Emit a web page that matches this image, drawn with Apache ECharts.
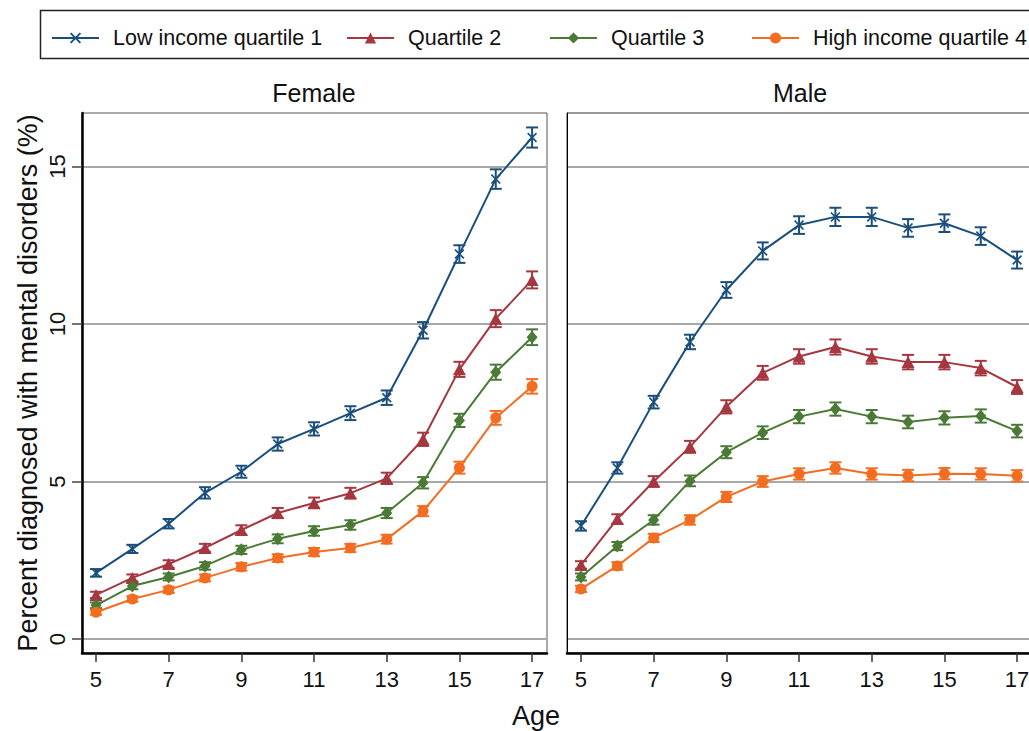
<!DOCTYPE html>
<html>
<head>
<meta charset="utf-8">
<script src="https://cdn.jsdelivr.net/npm/echarts@6/dist/echarts.min.js"></script>
<style>
html,body{margin:0;padding:0;background:#fff;overflow:hidden;}
#chart{width:1045px;height:731px;}
</style>
</head>
<body>
<div id="chart"></div>
<script>
// ---------- data ----------
const ages = [5, 6, 7, 8, 9, 10, 11, 12, 13, 14, 15, 16, 17];
const seriesNames = ['Low income quartile 1', 'Quartile 2', 'Quartile 3', 'High income quartile 4'];
const panelTitles = ['Female', 'Male'];
const yTickValues = [0, 5, 10, 15];
const xTickValues = [5, 7, 9, 11, 13, 15, 17];
const xAxisTitle = 'Age';
const yAxisTitle = 'Percent diagnosed with mental disorders (%)';

// Female: point estimates (%)
const femaleQ1 = [2.10, 2.86, 3.66, 4.64, 5.31, 6.19, 6.67, 7.17, 7.66, 9.80, 12.22, 14.60, 15.92];
const femaleQ2 = [1.40, 1.94, 2.38, 2.89, 3.46, 4.00, 4.32, 4.63, 5.10, 6.34, 8.56, 10.17, 11.40];
const femaleQ3 = [1.07, 1.68, 1.97, 2.32, 2.83, 3.18, 3.43, 3.62, 4.00, 4.96, 6.94, 8.47, 9.58];
const femaleQ4 = [0.85, 1.27, 1.56, 1.94, 2.29, 2.57, 2.76, 2.89, 3.17, 4.06, 5.44, 7.02, 8.02];
// Female: half-width of 95% CI
const femaleQ1ci = [0.12, 0.13, 0.15, 0.18, 0.19, 0.21, 0.21, 0.22, 0.23, 0.26, 0.28, 0.31, 0.32];
const femaleQ2ci = [0.10, 0.11, 0.12, 0.13, 0.15, 0.16, 0.17, 0.17, 0.18, 0.21, 0.24, 0.27, 0.27];
const femaleQ3ci = [0.09, 0.10, 0.11, 0.12, 0.13, 0.14, 0.15, 0.15, 0.16, 0.18, 0.21, 0.24, 0.25];
const femaleQ4ci = [0.08, 0.09, 0.10, 0.11, 0.12, 0.12, 0.13, 0.13, 0.14, 0.16, 0.19, 0.22, 0.23];

// Male: point estimates (%)
const maleQ1 = [3.59, 5.43, 7.52, 9.43, 11.08, 12.32, 13.14, 13.40, 13.40, 13.05, 13.20, 12.79, 12.03];
const maleQ2 = [2.35, 3.81, 5.00, 6.10, 7.37, 8.45, 8.97, 9.27, 8.97, 8.79, 8.79, 8.60, 8.00];
const maleQ3 = [1.97, 2.95, 3.78, 5.02, 5.93, 6.55, 7.06, 7.30, 7.06, 6.89, 7.02, 7.08, 6.60];
const maleQ4 = [1.59, 2.32, 3.21, 3.78, 4.51, 5.00, 5.24, 5.43, 5.24, 5.19, 5.25, 5.24, 5.18];
// Male: half-width of 95% CI
const maleQ1ci = [0.15, 0.18, 0.20, 0.23, 0.25, 0.27, 0.28, 0.29, 0.29, 0.28, 0.28, 0.28, 0.27];
const maleQ2ci = [0.12, 0.15, 0.17, 0.19, 0.21, 0.22, 0.23, 0.24, 0.23, 0.23, 0.23, 0.23, 0.22];
const maleQ3ci = [0.11, 0.13, 0.15, 0.17, 0.19, 0.20, 0.21, 0.21, 0.21, 0.20, 0.21, 0.21, 0.20];
const maleQ4ci = [0.10, 0.12, 0.13, 0.15, 0.16, 0.17, 0.18, 0.18, 0.18, 0.18, 0.18, 0.18, 0.18];

// ---------- styles ----------
const colors = ['#1a4f7b', '#a6363f', '#4a7a35', '#f26d21'];
const xMarker = 'path://M0,1.2 L1.2,0 L5,3.8 L8.8,0 L10,1.2 L6.2,5 L10,8.8 L8.8,10 L5,6.2 L1.2,10 L0,8.8 L3.8,5 Z';
const symbols = [xMarker, 'triangle', 'diamond', 'circle'];
const symbolSizes = [[10, 10], [13, 12], [11, 13], [11, 11]];
const FONT = '"Liberation Sans", Arial, Helvetica, sans-serif';

const panels = [
  { values: [femaleQ1, femaleQ2, femaleQ3, femaleQ4], ci: [femaleQ1ci, femaleQ2ci, femaleQ3ci, femaleQ4ci] },
  { values: [maleQ1, maleQ2, maleQ3, maleQ4], ci: [maleQ1ci, maleQ2ci, maleQ3ci, maleQ4ci] }
];

const X_MIN = 4.615, X_MAX = 17.41, Y_MIN = -0.444, Y_MAX = 16.698;
const grids = [
  { left: 82, top: 113, width: 465, height: 540, show: true, borderColor: '#555', borderWidth: 1, backgroundColor: '#fff' },
  { left: 567, top: 113, width: 465, height: 540, show: true, borderColor: '#333', borderWidth: 1, backgroundColor: '#fff' }
];

const xAxes = [0, 1].map(i => ({
  type: 'value', gridIndex: i, min: X_MIN, max: X_MAX,
  axisLine: { show: true, onZero: false, lineStyle: { color: '#000', width: 2.5 } },
  axisTick: { show: true, length: 9, customValues: xTickValues, lineStyle: { color: '#333', width: 1.5 } },
  axisLabel: { show: true, customValues: xTickValues, fontSize: 22, color: '#111', fontFamily: FONT, margin: 15 },
  splitLine: { show: false }
}));

const yAxes = [0, 1].map(i => ({
  type: 'value', gridIndex: i, min: Y_MIN, max: Y_MAX,
  name: i === 0 ? yAxisTitle : '',
  nameLocation: 'middle', nameGap: 41,
  nameTextStyle: { fontSize: 27, color: '#111', fontFamily: FONT },
  axisLine: { show: true, onZero: false, lineStyle: { color: '#000', width: i === 0 ? 2.5 : 1 } },
  axisTick: { show: i === 0, length: 10, customValues: yTickValues, lineStyle: { color: '#444', width: 1.5 } },
  axisLabel: { show: i === 0, customValues: yTickValues, rotate: 90, fontSize: 22, color: '#111', fontFamily: FONT, margin: 14 },
  splitLine: { show: true, lineStyle: { color: '#a8a8a8', width: 2 } }
}));
// right panel needs gridlines but no tick marks: keep customValues for split line positions
yAxes[1].axisTick = { show: false, customValues: yTickValues };

const series = [];
panels.forEach((panel, p) => {
  panel.values.forEach((vals, q) => {
    const ciData = ages.map((a, k) => [a, vals[k] - panel.ci[q][k], vals[k] + panel.ci[q][k]]);
    series.push({
      type: 'custom', name: 'ci-' + p + '-' + q,
      xAxisIndex: p, yAxisIndex: p, z: 3, silent: true,
      data: ciData,
      renderItem: (params, api) => {
        const x = api.value(0), lo = api.value(1), hi = api.value(2);
        const a = api.coord([x, lo]), b = api.coord([x, hi]);
        const w = 6;
        const st = { stroke: colors[q], lineWidth: 2 };
        return { type: 'group', children: [
          { type: 'line', shape: { x1: a[0], y1: a[1], x2: b[0], y2: b[1] }, style: st },
          { type: 'line', shape: { x1: a[0] - w, y1: a[1], x2: a[0] + w, y2: a[1] }, style: st },
          { type: 'line', shape: { x1: b[0] - w, y1: b[1], x2: b[0] + w, y2: b[1] }, style: st }
        ]};
      }
    });
    series.push({
      type: 'line', name: seriesNames[q],
      xAxisIndex: p, yAxisIndex: p, z: 4,
      data: ages.map((a, k) => [a, vals[k]]),
      symbol: symbols[q], symbolSize: symbolSizes[q], showSymbol: true,
      color: colors[q],
      lineStyle: { color: colors[q], width: 2 },
      itemStyle: { color: colors[q] },
      animation: false
    });
  });
});

const legendLeft = [51, 346, 549, 751];
const legends = seriesNames.map((n, i) => ({
  data: [n], left: legendLeft[i], top: 27, padding: 0, orient: 'horizontal',
  itemWidth: 47, itemHeight: 14, selectedMode: false,
  textStyle: { fontSize: 21.5, color: '#111', fontFamily: FONT, padding: [0, 0, 0, 9] }
}));

const option = {
  backgroundColor: '#fff',
  animation: false,
  grid: grids,
  xAxis: xAxes,
  yAxis: yAxes,
  legend: legends,
  series: series,
  graphic: [
    { type: 'rect', z: -1, shape: { x: 40.5, y: 10.5, width: 1040, height: 48 }, style: { fill: '#fff', stroke: '#222', lineWidth: 1.5 } },
    { type: 'text', x: 314, y: 93, style: { text: panelTitles[0], fontSize: 25, fill: '#111', fontFamily: FONT, textAlign: 'center', textVerticalAlign: 'middle' } },
    { type: 'text', x: 800, y: 93, style: { text: panelTitles[1], fontSize: 25, fill: '#111', fontFamily: FONT, textAlign: 'center', textVerticalAlign: 'middle' } },
    { type: 'text', x: 536, y: 716, style: { text: xAxisTitle, fontSize: 27, fill: '#111', fontFamily: FONT, textAlign: 'center', textVerticalAlign: 'middle' } }
  ]
};

const chart = echarts.init(document.getElementById('chart'), null, { renderer: 'svg' });
chart.setOption(option);
</script>
</body>
</html>
